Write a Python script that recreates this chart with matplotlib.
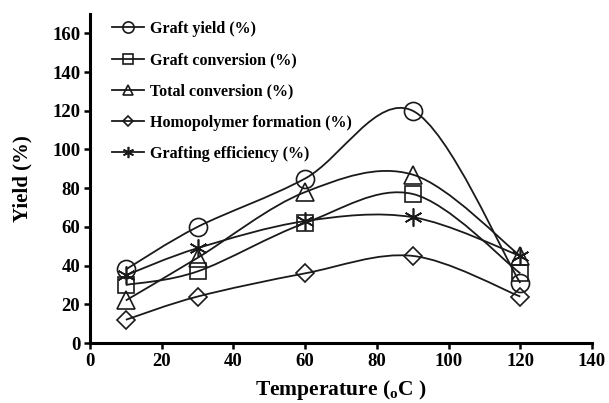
import numpy as np
import matplotlib
matplotlib.use('Agg')
import matplotlib.pyplot as plt
from matplotlib.path import Path
from matplotlib.patches import PathPatch
from matplotlib.lines import Line2D

plt.rcParams['font.family'] = 'Liberation Serif'
plt.rcParams['font.weight'] = 'bold'
plt.rcParams['mathtext.fontset'] = 'custom'
plt.rcParams['mathtext.rm'] = 'Liberation Serif:bold'

temperature = [10, 30, 60, 90, 120]
graft_yield = [38, 60, 85, 120, 31]
graft_conversion = [30, 37, 62, 77, 36]
total_conversion = [22, 44, 78, 87, 45]
homopolymer = [12, 24, 36, 45, 24]
grafting_eff = [35, 49, 63, 65, 45]

series = [
    ('Graft yield (%)', graft_yield, 'o', 13),
    ('Graft conversion (%)', graft_conversion, 's', 11.5),
    ('Total conversion (%)', total_conversion, '^', 12.5),
    ('Homopolymer formation (%)', homopolymer, 'D', 9),
    ('Grafting efficiency (%)', grafting_eff, (6, 2, 0), 13),
]


def smooth_path(x, y):
    # spreadsheet-style smoothed line: cubic bezier, control points at 1/6 of neighbour span
    pts = np.column_stack([x, y]).astype(float)
    n = len(pts)
    verts = [pts[0]]
    codes = [Path.MOVETO]
    for i in range(n - 1):
        p0 = pts[max(i - 1, 0)]
        p1 = pts[i]
        p2 = pts[i + 1]
        p3 = pts[min(i + 2, n - 1)]
        c1 = p1 + (p2 - p0) / 6
        c2 = p2 - (p3 - p1) / 6
        verts += [c1, c2, p2]
        codes += [Path.CURVE4] * 3
    return Path(verts, codes)


fig = plt.figure(figsize=(6.09, 4.03), dpi=100)
ax = fig.add_axes([90 / 609, 60 / 403, 502 / 609, 329 / 403])

for label, vals, mk, ms in series:
    ax.add_patch(PathPatch(smooth_path(temperature, vals), facecolor='none',
                           edgecolor='#1a1a1a', lw=1.3))
    ax.plot(temperature, vals, linestyle='none', marker=mk, markersize=ms,
            markerfacecolor='none', markeredgecolor='#1a1a1a', markeredgewidth=1.2)

ax.set_xlim(0, 140)
ax.set_ylim(0, 170)
ax.set_xticks(range(0, 141, 20))
ax.set_yticks(range(0, 161, 20))
ax.spines['top'].set_visible(False)
ax.spines['right'].set_visible(False)
ax.spines['left'].set_linewidth(2.2)
ax.spines['bottom'].set_linewidth(2.2)
ax.tick_params(direction='out', length=4, width=1.8, labelsize=13.5, pad=3)

ax.set_xlabel(r'Temperature ($_\mathregular{o}$C )', fontsize=15.5, fontweight='bold', labelpad=6)
ax.set_ylabel('Yield (%)', fontsize=15, fontweight='bold', labelpad=14)

handles = [Line2D([], [], color='#1a1a1a', lw=1.3, marker=mk, markersize=ms * 0.62,
                  markerfacecolor='none', markeredgecolor='#1a1a1a', markeredgewidth=1.2)
           for _, _, mk, ms in series]
labels = [s[0] for s in series]
fig.legend(handles, labels, loc='upper left', bbox_to_anchor=(112 / 609, 1 - 21 / 403),
           frameon=False, handlelength=2.0, handletextpad=0.4,
           labelspacing=0.95, borderpad=0, borderaxespad=0,
           prop={'weight': 'bold', 'size': 11.5})

fig.savefig('out.png', dpi=100)
